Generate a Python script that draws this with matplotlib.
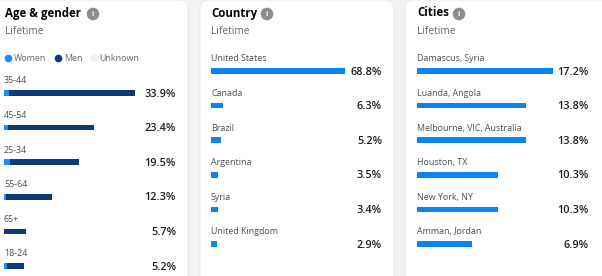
import matplotlib
matplotlib.use("Agg")
import matplotlib.pyplot as plt
from matplotlib.patches import FancyBboxPatch
from matplotlib.lines import Line2D

plt.rcParams['font.family'] = ['Open Sans', 'DejaVu Sans']

# data
age_groups = ['35-44', '45-54', '25-34', '55-64', '65+', '18-24']
age_totals = [33.9, 23.4, 19.5, 12.3, 5.7, 5.2]
age_women = [1.3, 1.0, 1.5, 0.6, 0.1, 0.8]
age_men = [t - w for t, w in zip(age_totals, age_women)]

countries = ['United States', 'Canada', 'Brazil', 'Argentina', 'Syria', 'United Kingdom']
country_pct = [68.8, 6.3, 5.2, 3.5, 3.4, 2.9]

cities = ['Damascus, Syria', 'Luanda, Angola', 'Melbourne, VIC, Australia',
          'Houston, TX', 'New York, NY', 'Amman, Jordan']
city_pct = [17.2, 13.8, 13.8, 10.3, 10.3, 6.9]

W, H = 602, 276
BG = '#f0f2f5'
BLUE = '#0a84f4'
NAVY = '#0b3b7a'
LIGHT = '#1a8cff'
UNKNOWN = '#e7f3ff'

fig = plt.figure(figsize=(W / 100, H / 100), dpi=100)
fig.patch.set_facecolor(BG)

# background axes in pixel units for the cards
bg = fig.add_axes([0, 0, 1, 1])
bg.set_xlim(0, W)
bg.set_ylim(H, 0)
bg.axis('off')
for x0, x1 in [(-20, 188), (200, 394), (405, 640)]:
    bg.add_patch(FancyBboxPatch((x0, 0), x1 - x0, 320,
                                boxstyle='round,pad=0,rounding_size=9',
                                fc='white', ec='#e6e8eb', lw=0.6))

row_px = 34.6
top_px = 40


def px(x, y):
    return x / W, 1 - y / H


def header(x, title, icon_x):
    fig.text(*px(x, 13), title, fontsize=8.3, weight='bold', color='#050505',
             va='center', ha='left')
    fig.text(*px(icon_x, 14), 'i', fontsize=5.3, weight='bold', color='white',
             va='center', ha='center',
             bbox=dict(boxstyle='circle,pad=0.38', fc='#8a8d91', ec='none'))
    fig.text(*px(x, 32), 'Lifetime', fontsize=7.3, color='#65676b',
             va='center', ha='left')


def card_axes(x_left, x_right, first_bar_px):
    ax = fig.add_axes([x_left / W, 0, (x_right - x_left) / W, 1 - top_px / H])
    ax.set_ylim((H - first_bar_px) / row_px, (top_px - first_bar_px) / row_px)
    ax.axis('off')
    return ax


def rows(ax, labels, values, max_frac):
    xmax = max(values) / max_frac
    ax.set_xlim(0, xmax)
    for i, (lab, v) in enumerate(zip(labels, values)):
        ax.text(0, i - 0.35, lab, fontsize=6.4, color='#4b4f56',
                va='center', ha='left')
        ax.text(xmax, i + 0.03, f'{v}%', fontsize=7.8, weight='semibold',
                color='#1c1e21', va='center', ha='right')


# Age & gender
header(5, 'Age & gender', 93)
ax1 = card_axes(4, 176, 93)
y = range(len(age_groups))
ax1.barh(y, age_women, height=0.16, color=LIGHT)
ax1.barh(y, age_men, left=age_women, height=0.16, color=NAVY)
rows(ax1, age_groups, age_totals, 131 / 172)
handles = [Line2D([], [], marker='o', ls='', color=c, markersize=4.5)
           for c in (LIGHT, NAVY, UNKNOWN)]
ax1.legend(handles, ['Women', 'Men', 'Unknown'], ncol=3, frameon=False,
           loc='center left', bbox_to_anchor=(-0.022, 0.92), fontsize=6.4,
           handletextpad=0.15, columnspacing=0.8, handlelength=1,
           borderaxespad=0, labelcolor='#65676b')

# Country
header(211, 'Country', 267)
ax2 = card_axes(211, 382, 71)
ax2.barh(range(len(countries)), country_pct, height=0.16, color=BLUE)
rows(ax2, countries, country_pct, 134 / 171)

# Cities
header(417, 'Cities', 459)
ax3 = card_axes(417, 589, 71)
ax3.barh(range(len(cities)), city_pct, height=0.16, color=BLUE)
rows(ax3, cities, city_pct, 136 / 172)

fig.savefig('out.png', dpi=100, facecolor=BG)
